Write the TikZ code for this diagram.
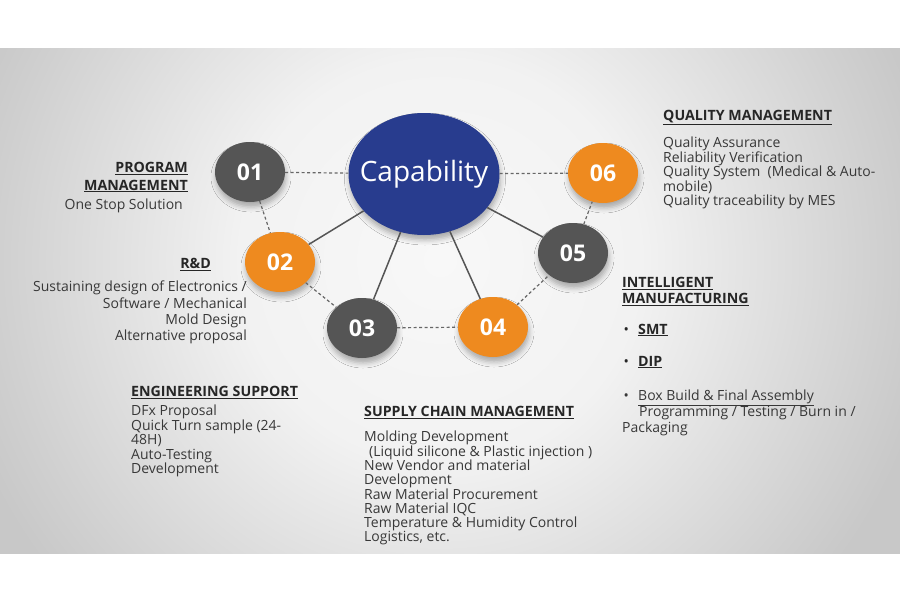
\documentclass[tikz,border=0pt]{standalone}
\usepackage{fontspec}
\setmainfont{Open Sans}
\usetikzlibrary{shapes.geometric,shadows.blur}
\definecolor{capblue}{HTML}{283C8E}
\definecolor{numorange}{HTML}{EE8A1F}
\definecolor{numgray}{HTML}{555555}
\definecolor{txtgray}{HTML}{383838}
\definecolor{bgedge}{HTML}{C8C8C8}
\definecolor{bga}{HTML}{D0D0D0}
\definecolor{bgb}{HTML}{F2F2F2}
\definecolor{bgc}{HTML}{F8F8F8}
\pgfdeclareradialshading{bgshade}{\pgfpoint{0bp}{0bp}}{color(0bp)=(bgc); color(10bp)=(bgb); color(22bp)=(bga); color(25bp)=(bgedge); color(50bp)=(bgedge)}
\tikzstyle{shad} = [blur shadow={shadow xshift=1pt, shadow yshift=-5pt, shadow opacity=30, shadow blur radius=5pt}]
\tikzstyle{num} = [ellipse, minimum width=70pt, minimum height=60pt, inner sep=0pt,
    text=white, font=\fontsize{23}{23}\selectfont\bfseries, shad]
\tikzstyle{numg} = [num, fill=numgray]
\tikzstyle{numo} = [num, fill=numorange]
\tikzstyle{head} = [inner sep=0pt, text=black!85, font=\fontsize{14.2}{17.5}\selectfont\bfseries]
\tikzstyle{body} = [inner sep=0pt, text=txtgray, font=\fontsize{14}{14.5}\selectfont]
\tikzstyle{solidl} = [-, line width=1.5pt, draw=numgray]
\tikzstyle{dashl} = [-, line width=1.2pt, draw=black!60, dash pattern=on 3pt off 2.5pt]

\begin{document}
\begin{tikzpicture}[x=1pt,y=-1pt]
  \useasboundingbox (0,0) rectangle (900,600);
  \fill[white] (0,0) rectangle (900,600);
  \begin{scope}
    \clip (0,48) rectangle (900,553);
    \shade[shading=bgshade] (-60,-240) rectangle (940,760);
  \end{scope}

  \node[ellipse, minimum width=151pt, minimum height=122pt, inner sep=0pt, fill=capblue,
        text=white, font=\fontsize{28}{28}\selectfont, shad]
        (cap) at (424,174) {\makebox[0pt]{Capability}};
  \node[numg] (n1) at (250,172) {01};
  \node[numo] (n2) at (280,262) {02};
  \node[numg] (n3) at (362,328) {03};
  \node[numo] (n4) at (493,327) {04};
  \node[numg] (n5) at (573,253) {05};
  \node[numo] (n6) at (603,173) {06};

  \path[solidl] (cap) edge (n2) edge (n3) edge (n4) edge (n5);
  \path[dashl] (n1) edge (cap)
               (cap) edge (n6)
               (n1) edge (n2)
               (n2) edge (n3)
               (n3) edge (n4)
               (n4) edge (n5)
               (n5) edge (n6);

  % program management
  \node[head, anchor=north east, align=right] (pmh) at (188,162) {\underline{PROGRAM}\\\underline{MANAGEMENT}};
  \node[body, anchor=north east, align=right] (pmb) at (183,199) {One Stop Solution};

  % r&d
  \node[head, anchor=north east] (rdh) at (211,258) {\underline{R\&D}};
  \node[body, anchor=north east, align=right, font=\fontsize{14}{16.3}\selectfont] (rdb) at (247,281)
       {Sustaining design of Electronics /\\Software / Mechanical\\Mold Design\\Alternative proposal};

  % quality management
  \node[head, anchor=north west] (qmh) at (663,110) {\underline{QUALITY MANAGEMENT}};
  \node[body, anchor=north west, align=left] (qmb) at (663,137)
       {Quality Assurance\\Reliability Verification\\Quality System~~(Medical \& Auto-\\mobile)\\Quality traceability by MES};

  % intelligent manufacturing
  \node[head, anchor=north west, align=left, font=\fontsize{14.2}{16.5}\selectfont\bfseries] (imh) at (622,277)
       {\underline{INTELLIGENT}\\\underline{MANUFACTURING}};
  \node[head, anchor=west] (smt) at (622,330) {\makebox[8pt][c]{\mdseries•}\hspace{8pt}\underline{SMT}};
  \node[head, anchor=west] (dip) at (622,362) {\makebox[8pt][c]{\mdseries•}\hspace{8pt}\underline{DIP}};
  \node[body, anchor=north west, align=left, font=\fontsize{14}{16}\selectfont] (box) at (622,390)
       {\makebox[8pt][c]{•}\hspace{8pt}\underline{Box Build \& Final Assembly}\\
        \hspace{17pt}Programming / Testing / Burn in /\\Packaging};

  % engineering support
  \node[head, anchor=north west] (esh) at (131,386) {\underline{ENGINEERING SUPPORT}};
  \node[body, anchor=north west, align=left] (esb) at (131,405)
       {DFx Proposal\\Quick Turn sample (24-\\48H)\\Auto-Testing\\Development};

  % supply chain management
  \node[head, anchor=north west] (sch) at (364,406) {\underline{SUPPLY CHAIN MANAGEMENT}};
  \node[body, anchor=north west, align=left, font=\fontsize{14}{14.3}\selectfont] (scb) at (364,431)
       {Molding Development\\\hspace{5pt}(Liquid silicone \& Plastic injection )\\New Vendor and material\\Development\\Raw Material Procurement\\Raw Material IQC\\Temperature \& Humidity Control\\Logistics, etc.};
\end{tikzpicture}
\end{document}
